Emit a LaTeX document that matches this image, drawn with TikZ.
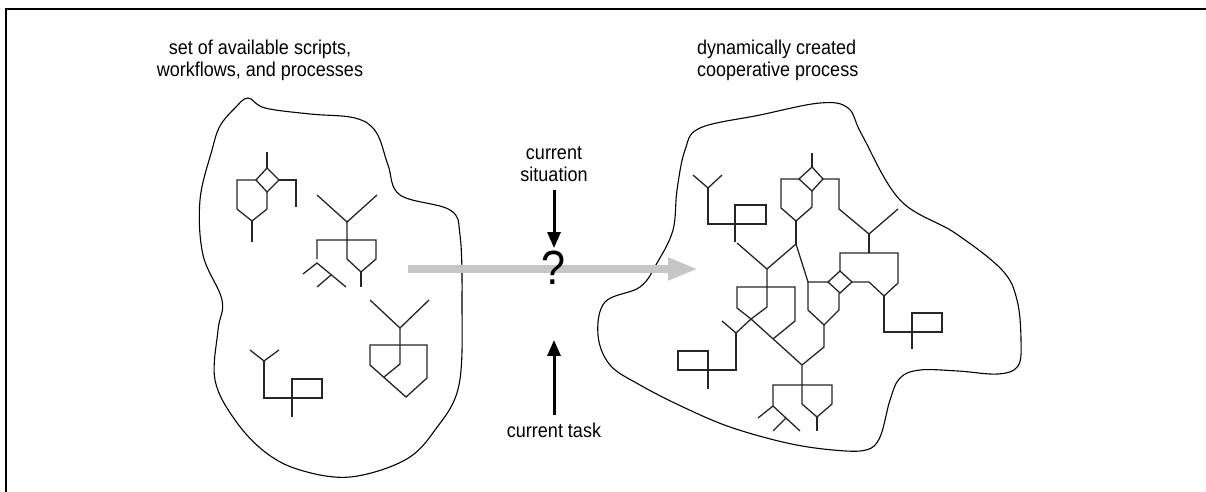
\documentclass[tikz,border=0pt]{standalone}
\usepackage{fontspec}
\setmainfont[FakeStretch=0.9]{Liberation Sans}
\usepackage{tikz}
\usetikzlibrary{positioning}
\usetikzlibrary{arrows.meta}
\tikzstyle{flow line}=[line width=1.3pt,black!85,line join=miter]
\tikzstyle{blob line}=[line width=1.1pt,black]
\tikzstyle{cue arrow}=[line width=3pt,-{Triangle[length=16pt,width=13pt]}]
\tikzstyle{gray arrow}=[line width=8pt,gray!45,-{Triangle[length=30pt,width=21pt]}]
\tikzstyle{cue text}=[font=\fontsize{20}{22}\selectfont,inner sep=3pt]
\newcommand{\labelnode}[4][]{
  \node [cue text, #1] (#2) at #3 {#4}
}

\begin{document}
\begin{tikzpicture}[x=1pt,y=-1pt]
        \useasboundingbox (0,0) rectangle (1206,492);
        \draw[line width=2.4pt] (6,492) -- (6,9) -- (1206,9);

        % the two blobs
        \draw[blob line] plot[smooth cycle,tension=0.6] coordinates {
          (212,150) (220,126) (235,108) (248,98) (265,108) (310,114)
          (355,118) (376,132) (388,165) (400,195)
          (450,210) (460,235) (462,300) (459,385) (435,430) (405,460)
          (350,477) (300,470) (265,452) (235,420) (215,380) (218,330)
          (222,300) (203,255) (200,200)};
        \draw[blob line] plot[smooth cycle,tension=0.6] coordinates {
          (700,128) (760,115) (820,103) (848,108) (862,135) (900,200)
          (955,233) (1002,270) (1017,300) (1021,340) (1018,366) (998,374)
          (958,371) (920,370) (900,378) (890,400) (880,437) (866,450)
          (833,450) (787,443) (730,427) (683,407) (640,385) (610,365)
          (598,335) (605,302) (640,287) (657,263) (673,230) (677,190)
          (685,150)};

        % available pieces
        \draw[flow line] (267,152) -- (267,168);
        \draw[flow line] (267,168) -- (279,180) -- (267,192) -- (256,180) -- cycle;
        \draw[flow line] (256,180) -- (237,180) -- (237,209) -- (252,221) -- (267,209) -- (267,192);
        \draw[flow line] (252,221) -- (252,242);
        \draw[flow line] (279,180) -- (296,180) -- (296,207);

        \draw[flow line] (317,195) -- (347,222) -- (377,195);
        \draw[flow line] (347,222) -- (347,259) -- (361,272) -- (376,259) -- (376,240) -- (317,240) -- (317,259);
        \draw[flow line] (361,272) -- (361,287);
        \draw[flow line] (303,274) -- (317,263) -- (346,287);
        \draw[flow line] (317,287) -- (331,275);

        \draw[flow line] (370,300) -- (400,328) -- (429,300);
        \draw[flow line] (400,328) -- (400,364) -- (384,377);
        \draw[flow line] (370,345) -- (427,345) -- (427,378) -- (406,397) -- (370,365) -- cycle;

        \draw[flow line] (250,350) -- (264,361) -- (279,350);
        \draw[flow line] (264,361) -- (264,398) -- (322,398) -- (322,379) -- (292,379) -- (292,417);

        % composed process
        \draw[flow line] (693,175) -- (708,188) -- (722,175);
        \draw[flow line] (708,188) -- (708,224) -- (766,224) -- (766,205) -- (735,205) -- (735,242);
        \draw[flow line] (737,243) -- (767,269) -- (796,244);
        \draw[flow line] (812,153) -- (812,167);
        \draw[flow line] (812,167) -- (823,179) -- (812,191) -- (799,179) -- cycle;
        \draw[flow line] (799,179) -- (781,179) -- (781,208) -- (796,221) -- (812,207) -- (812,191);
        \draw[flow line] (796,221) -- (796,244);
        \draw[flow line] (823,179) -- (839,179) -- (839,209) -- (869,234) -- (898,209);
        \draw[flow line] (869,234) -- (869,253);
        \draw[flow line] (796,244) -- (808,282) -- (828,282);
        \draw[flow line] (828,282) -- (840,271) -- (852,282) -- (840,293) -- cycle;
        \draw[flow line] (808,282) -- (808,310) -- (824,325) -- (839,310) -- (839,293);
        \draw[flow line] (840,271) -- (840,253) -- (898,253) -- (898,283) -- (884,296) -- (869,282) -- (852,282);
        \draw[flow line] (884,296) -- (884,332) -- (942,332) -- (942,313) -- (912,313) -- (912,349);
        \draw[flow line] (824,325) -- (824,347) -- (802,365);
        \draw[flow line] (767,269) -- (767,307) -- (751,319) -- (737,308) -- (737,287) -- (795,287) -- (795,321) -- (773,339);
        \draw[flow line] (751,319) -- (802,365) -- (802,404) -- (817,417) -- (832,404) -- (832,385) -- (773,385) -- (773,406) -- (800,431);
        \draw[flow line] (758,418) -- (773,406);
        \draw[flow line] (773,431) -- (786,418);
        \draw[flow line] (817,417) -- (817,431);
        \draw[flow line] (722,321) -- (736,333) -- (751,319);
        \draw[flow line] (736,333) -- (736,370) -- (678,370) -- (678,351) -- (708,351) -- (708,389);

        % the step from one blob to the other
        \coordinate (from) at (408,269);
        \coordinate (to) at (698,269);
        \draw[gray arrow] (from) -- (to);

        % labels
        \labelnode[align=center]{avail}{(260,60)}{set of available scripts,\\workflows, and processes};
        \labelnode[align=left,anchor=west]{created}{(694,60)}{dynamically created\\cooperative process};
        \labelnode[font=\fontsize{48}{50}\selectfont]{qmark}{(554,268)}{?};
        \labelnode[align=center]{situation}{(554,164)}{current\\situation};
        \labelnode{task}{(554,430)}{current task};

      \draw[cue arrow,shorten <=5pt,shorten >=0pt] (situation) -- (qmark);
      \draw[cue arrow,shorten <=4pt,shorten >=52pt] (task) -- (qmark);

\end{tikzpicture}
\end{document}
